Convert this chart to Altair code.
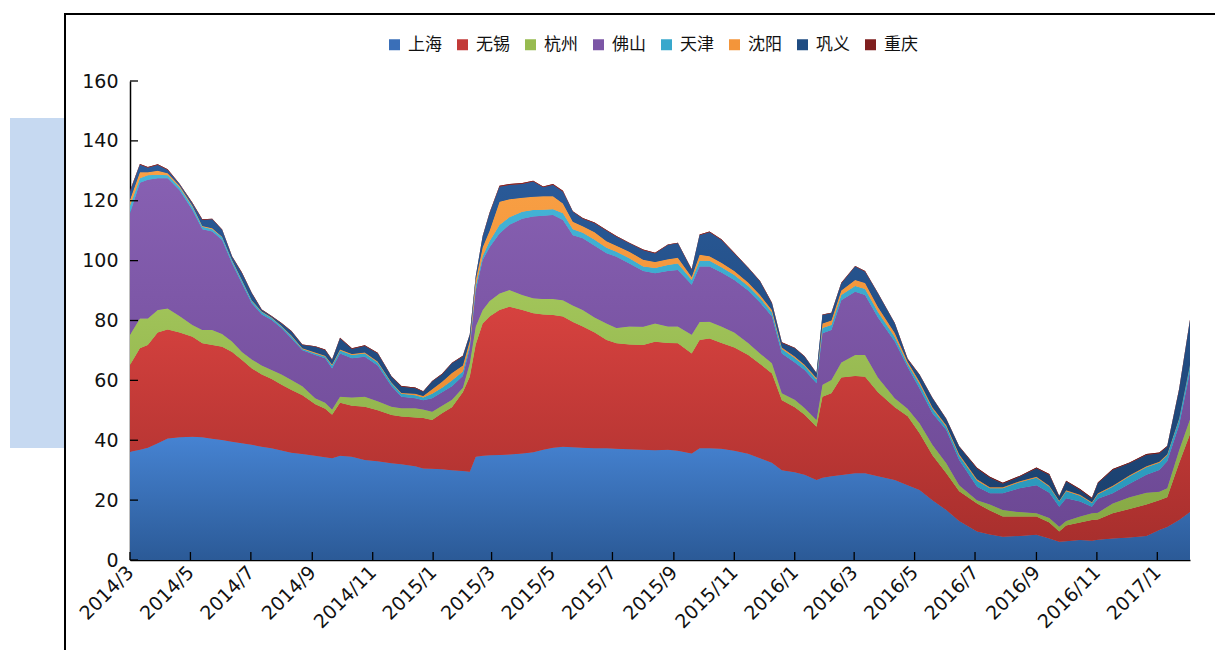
import altair as alt
import pandas as pd

cities = ["上海", "无锡", "杭州", "佛山", "天津", "沈阳", "巩义", "重庆"]
colors = ["#3a6fb8", "#c23a38", "#97bb50", "#7c56a6", "#38a8cc", "#f3953a", "#1f4c82", "#7f1f1f"]
colors_top = ["#4683d2", "#d6423f", "#a2c55a", "#8760b2", "#46b5d8", "#f9a045", "#2a5b9a", "#8a2424"]
colors_bottom = ["#2b5a97", "#a82f2d", "#86a844", "#6c4894", "#2a98bc", "#e8872b", "#1b416f", "#6e1a1a"]

dates = [
    "2014-03-01", "2014-03-11", "2014-03-19", "2014-03-29", "2014-04-08", "2014-04-20",
    "2014-05-03", "2014-05-13", "2014-05-23", "2014-06-02", "2014-06-12", "2014-06-22",
    "2014-07-02", "2014-07-12", "2014-07-22", "2014-08-01", "2014-08-11", "2014-08-22",
    "2014-09-04", "2014-09-14", "2014-09-21", "2014-09-29", "2014-10-11", "2014-10-24",
    "2014-11-06", "2014-11-20", "2014-11-30", "2014-12-14", "2014-12-22", "2014-12-31",
    "2015-01-10", "2015-01-20", "2015-01-31", "2015-02-07", "2015-02-13", "2015-02-20",
    "2015-02-27", "2015-03-09", "2015-03-19", "2015-04-01", "2015-04-12", "2015-04-22",
    "2015-05-02", "2015-05-12", "2015-05-22", "2015-06-01", "2015-06-13", "2015-06-25",
    "2015-07-05", "2015-07-18", "2015-08-01", "2015-08-13", "2015-08-26", "2015-09-05",
    "2015-09-19", "2015-09-27", "2015-10-07", "2015-10-19", "2015-11-01", "2015-11-15",
    "2015-11-27", "2015-12-09", "2015-12-19", "2016-01-01", "2016-01-11", "2016-01-23",
    "2016-01-29", "2016-02-07", "2016-02-17", "2016-03-02", "2016-03-12", "2016-03-25",
    "2016-04-11", "2016-04-24", "2016-05-06", "2016-05-19", "2016-06-02", "2016-06-15",
    "2016-07-03", "2016-07-16", "2016-07-29", "2016-08-15", "2016-09-01", "2016-09-14",
    "2016-09-24", "2016-10-01", "2016-10-15", "2016-10-27", "2016-11-02", "2016-11-17",
    "2016-12-04", "2016-12-21", "2017-01-03", "2017-01-11", "2017-01-23", "2017-02-03",
]

shanghai = [
    36.2, 36.8, 37.5, 39.0, 40.6, 41.0, 41.2, 41.0, 40.5, 40.1, 39.5, 39.0,
    38.5, 37.8, 37.3, 36.6, 35.8, 35.4, 34.8, 34.3, 34.0, 34.8, 34.5, 33.4,
    33.0, 32.3, 32.0, 31.3, 30.6, 30.5, 30.3, 30.0, 29.7, 29.5, 34.5, 34.8,
    35.0, 35.1, 35.2, 35.6, 36.0, 36.8, 37.5, 37.8, 37.7, 37.5, 37.3, 37.3,
    37.2, 37.0, 36.8, 36.7, 36.8, 36.5, 35.6, 37.3, 37.3, 37.2, 36.5, 35.5,
    34.0, 32.5, 30.0, 29.3, 28.5, 26.7, 27.5, 28.0, 28.4, 29.0, 29.0, 28.0,
    26.7, 25.0, 23.4, 20.0, 16.7, 13.0, 9.5, 8.5, 7.8, 8.0, 8.4, 7.2,
    6.1, 6.3, 6.7, 6.4, 6.8, 7.2, 7.5, 8.0, 10.0, 11.0, 13.4, 16.0,
]
wuxi = [
    28.9, 33.9, 34.3, 37.0, 36.4, 35.0, 33.4, 31.4, 31.3, 31.1, 30.0, 27.8,
    25.5, 24.2, 23.2, 21.9, 21.0, 19.6, 17.2, 16.2, 14.5, 17.7, 17.0, 17.8,
    17.0, 16.1, 15.9, 16.3, 16.8, 16.3, 18.7, 21.0, 26.3, 31.7, 37.5, 44.2,
    46.3, 48.4, 49.4, 47.9, 46.4, 45.2, 44.3, 43.5, 41.8, 40.5, 38.7, 36.2,
    35.2, 35.0, 35.0, 36.2, 35.7, 35.9, 33.4, 36.2, 36.7, 35.3, 34.5, 33.0,
    31.5, 29.8, 23.4, 21.7, 20.0, 17.8, 27.0, 27.7, 32.6, 32.5, 32.2, 28.0,
    24.3, 23.0, 18.9, 15.0, 12.3, 10.0, 9.4, 8.0, 6.7, 6.5, 6.1, 5.3,
    3.4, 5.2, 5.8, 7.0, 6.7, 8.4, 9.5, 10.5, 10.0, 10.0, 18.9, 26.0,
]
hangzhou = [
    10.1, 10.0, 8.9, 7.5, 7.0, 5.5, 3.9, 4.4, 5.0, 4.3, 3.5, 2.7,
    3.0, 3.0, 3.0, 3.5, 3.3, 3.0, 2.0, 2.0, 1.8, 2.0, 2.8, 3.3,
    3.0, 2.8, 2.8, 3.1, 2.9, 2.7, 2.5, 2.5, 1.5, 4.5, 6.0, 4.5,
    5.2, 5.5, 5.6, 5.0, 5.0, 5.2, 5.4, 5.5, 5.5, 5.5, 5.0, 5.5,
    5.1, 6.0, 6.1, 6.1, 5.5, 5.6, 6.2, 6.0, 5.6, 5.5, 5.0, 4.0,
    3.5, 3.4, 2.3, 2.5, 2.3, 2.3, 4.0, 4.4, 5.0, 7.0, 7.3, 5.0,
    3.0, 2.5, 3.4, 3.5, 3.3, 2.0, 1.1, 2.0, 2.2, 1.5, 1.1, 1.5,
    1.6, 1.5, 2.0, 2.2, 2.3, 3.3, 4.0, 4.0, 2.8, 3.0, 4.4, 5.0,
]
foshan = [
    40.6, 45.3, 46.3, 44.0, 43.5, 42.0, 38.4, 33.7, 32.9, 31.4, 26.1, 22.9,
    18.7, 17.0, 16.7, 15.4, 13.9, 12.1, 14.5, 14.9, 13.7, 14.5, 13.1, 13.4,
    12.0, 6.8, 3.8, 3.3, 3.1, 4.5, 4.5, 4.5, 4.0, 5.0, 12.0, 16.7,
    18.0, 20.1, 21.8, 25.5, 27.3, 27.8, 28.0, 26.8, 23.5, 24.0, 24.0, 23.5,
    23.8, 21.0, 18.6, 16.8, 18.5, 18.9, 16.7, 18.5, 18.4, 18.0, 17.5, 17.5,
    17.0, 15.6, 13.3, 12.5, 12.7, 12.2, 17.2, 16.7, 20.8, 21.1, 20.0, 20.0,
    19.0, 14.0, 11.6, 10.5, 11.1, 8.4, 4.5, 3.8, 5.6, 8.0, 9.4, 8.5,
    6.7, 7.6, 5.0, 2.2, 4.7, 3.4, 4.5, 6.0, 7.3, 9.0, 8.3, 16.0,
]
tianjin = [
    2.5, 1.5, 1.5, 1.2, 1.0, 1.0, 1.1, 0.8, 0.8, 0.9, 0.9, 0.9,
    0.8, 0.8, 0.6, 0.6, 0.7, 0.4, 0.5, 0.6, 1.0, 1.0, 1.1, 1.1,
    1.0, 1.0, 1.0, 1.0, 0.9, 1.5, 1.5, 2.0, 1.5, 1.0, 1.5, 1.3,
    2.0, 2.8, 2.5, 2.3, 2.2, 2.0, 2.0, 2.2, 2.0, 1.8, 2.0, 1.8,
    1.7, 1.8, 1.5, 1.7, 2.0, 2.1, 1.6, 2.0, 2.0, 1.8, 1.7, 1.5,
    1.5, 1.4, 1.5, 1.5, 1.3, 1.3, 1.8, 1.7, 1.7, 1.9, 2.0, 1.8,
    1.5, 1.0, 1.5, 1.5, 1.1, 1.4, 2.0, 1.7, 1.7, 2.0, 2.5, 2.0,
    1.7, 2.4, 2.0, 1.2, 1.5, 2.2, 2.5, 2.5, 2.4, 2.0, 2.0, 2.0,
]
shenyang = [
    2.0, 2.0, 1.0, 1.3, 0.7, 0.5, 0.3, 0.3, 0.3, 0.2, 0.2, 0.2,
    0.2, 0.2, 0.2, 0.2, 0.3, 0.2, 0.3, 0.2, 0.3, 0.3, 0.3, 0.3,
    0.3, 0.3, 0.3, 0.5, 0.5, 1.5, 2.0, 2.5, 2.0, 1.5, 2.0, 3.0,
    3.5, 7.8, 6.0, 4.7, 4.4, 4.5, 4.3, 3.3, 2.5, 2.2, 2.5, 2.2,
    2.0, 2.2, 2.3, 2.0, 2.0, 2.0, 1.0, 2.0, 1.5, 1.5, 1.3, 1.2,
    1.0, 0.8, 0.5, 0.5, 0.4, 0.5, 1.5, 1.5, 1.5, 2.0, 2.0, 1.7,
    1.3, 0.7, 0.7, 0.5, 0.5, 0.5, 0.5, 0.3, 0.3, 0.3, 0.3, 0.3,
    0.3, 0.3, 0.3, 0.3, 0.3, 0.3, 0.3, 0.3, 0.3, 0.3, 0.3, 0.3,
]
gongyi = [
    2.7, 2.5, 1.5, 1.9, 1.1, 0.5, 0.8, 2.0, 3.0, 2.2, 1.1, 2.3,
    2.3, 0.5, 0.3, 0.8, 1.3, 1.1, 1.9, 1.9, 1.5, 3.7, 1.7, 2.2,
    2.7, 1.9, 2.1, 1.9, 1.4, 2.6, 2.5, 3.2, 3.0, 2.0, 1.1, 3.5,
    5.8, 5.0, 4.8, 4.6, 5.1, 3.0, 3.8, 3.9, 3.3, 2.5, 3.0, 3.5,
    3.0, 2.8, 3.2, 2.9, 4.7, 4.8, 2.4, 6.5, 8.0, 7.6, 5.9, 4.8,
    4.5, 2.2, 1.5, 2.7, 2.7, 1.5, 2.8, 2.4, 2.4, 4.5, 3.8, 4.5,
    3.2, 0.8, 2.3, 3.0, 2.0, 2.5, 3.5, 3.2, 1.2, 1.5, 2.8, 3.6,
    1.3, 2.9, 1.6, 1.2, 3.3, 5.3, 4.0, 3.8, 2.8, 2.5, 9.5, 14.7,
]
chongqing = [
    0.3, 0.3, 0.3, 0.3, 0.2, 0.2, 0.2, 0.2, 0.2, 0.2, 0.2, 0.2,
    0.2, 0.2, 0.2, 0.2, 0.2, 0.2, 0.2, 0.2, 0.2, 0.2, 0.2, 0.2,
    0.2, 0.2, 0.2, 0.2, 0.2, 0.2, 0.2, 0.2, 0.2, 0.2, 0.2, 0.2,
    0.3, 0.3, 0.3, 0.3, 0.3, 0.3, 0.3, 0.3, 0.2, 0.2, 0.2, 0.2,
    0.2, 0.2, 0.2, 0.2, 0.2, 0.2, 0.2, 0.2, 0.2, 0.2, 0.2, 0.2,
    0.2, 0.2, 0.2, 0.2, 0.2, 0.2, 0.2, 0.2, 0.2, 0.2, 0.2, 0.2,
    0.2, 0.2, 0.2, 0.2, 0.2, 0.2, 0.3, 0.3, 0.3, 0.3, 0.3, 0.3,
    0.3, 0.3, 0.3, 0.3, 0.3, 0.3, 0.3, 0.3, 0.3, 0.3, 0.3, 0.3,
]

y_ticks = [0, 20, 40, 60, 80, 100, 120, 140, 160]
x_ticks = [
    "2014-03-01", "2014-05-01", "2014-07-01", "2014-09-01", "2014-11-01",
    "2015-01-01", "2015-03-01", "2015-05-01", "2015-07-01", "2015-09-01", "2015-11-01",
    "2016-01-01", "2016-03-01", "2016-05-01", "2016-07-01", "2016-09-01", "2016-11-01",
    "2017-01-01",
]

series = [shanghai, wuxi, hangzhou, foshan, tianjin, shenyang, gongyi, chongqing]
rows = []
for k, (c, vals) in enumerate(zip(cities, series)):
    for d, v in zip(dates, vals):
        rows.append({"date": d, "city": c, "value": v, "order": k})
df = pd.DataFrame(rows)


def dt(s):
    y, m, d = (int(p) for p in s.split("-"))
    return alt.DateTime(year=y, month=m, date=d, utc=True)


W, H = 1060, 479
LABEL_FONT = "DejaVu Sans"

xscale = alt.Scale(domain=[dt(dates[0]), dt(dates[-1])])
yscale = alt.Scale(domain=[0, 160], nice=False)

x_axis = alt.Axis(
    values=[dt(s) for s in x_ticks],
    labelExpr="utcFormat(datum.value, '%Y/%-m')",
    labelAngle=-45, labelAlign="right", labelBaseline="middle", labelPadding=9,
    ticks=False, tickSize=0, grid=False, title=None, labelOverlap=False,
    domainColor="#000000", domainWidth=1.5,
    labelFont=LABEL_FONT, labelFontSize=19, labelColor="#111111",
)
y_axis = alt.Axis(
    values=y_ticks, ticks=False, tickSize=0, grid=False, title=None,
    labelPadding=12, domainColor="#000000", domainWidth=1.5,
    labelFont=LABEL_FONT, labelFontSize=19, labelColor="#111111",
)

one = pd.DataFrame({"k": [0]})
side_box = alt.Chart(one).mark_rect(color="#c6d9f1").encode(
    x=alt.value(-120), x2=alt.value(-65), y=alt.value(37), y2=alt.value(367)
)
frame = alt.Chart(one).mark_rect(filled=False, color="#000000", strokeWidth=2).encode(
    x=alt.value(-65), x2=alt.value(1250), y=alt.value(-67), y2=alt.value(700)
)

base = alt.Chart(df).mark_area(interpolate="linear").encode(
    x=alt.X("date:T", scale=xscale, axis=x_axis),
    y=alt.Y("value:Q", stack="zero", scale=yscale, axis=y_axis),
    color=alt.Color(
        "city:N",
        scale=alt.Scale(domain=cities, range=colors),
        legend=alt.Legend(
            orient="none", legendX=256, legendY=-45, direction="horizontal", columns=8,
            title=None, symbolType="square", symbolSize=121, symbolStrokeWidth=0,
            labelFont="Noto Sans CJK SC", labelFontSize=17, labelColor="#111111",
            labelOffset=5, columnPadding=12,
        ),
    ),
    order=alt.Order("order:Q", sort="ascending"),
)

grad_layers = []
for k, c in enumerate(cities):
    grad = alt.LinearGradient(
        gradient="linear",
        stops=[alt.GradientStop(color=colors_top[k], offset=0),
               alt.GradientStop(color=colors_bottom[k], offset=1)],
        x1=0, x2=0, y1=0, y2=1,
    )
    layer = (
        alt.Chart(df)
        .transform_stack(stack="value", groupby=["date"],
                         sort=[alt.SortField("order", order="ascending")], as_=["y0", "y1"])
        .transform_filter(alt.datum.city == c)
        .mark_area(color=grad, interpolate="linear")
        .encode(
            x=alt.X("date:T", scale=xscale, axis=x_axis),
            y=alt.Y("y1:Q", scale=yscale, axis=y_axis),
            y2="y0:Q",
        )
    )
    grad_layers.append(layer)

ytick_rules = alt.Chart(pd.DataFrame({"v": y_ticks})).mark_rule(color="#000000", strokeWidth=1.3).encode(
    y=alt.Y("v:Q", scale=yscale, axis=y_axis), x=alt.value(0), x2=alt.value(8)
)
xtick_rules = alt.Chart(pd.DataFrame({"d": x_ticks})).mark_rule(color="#000000", strokeWidth=1.3).encode(
    x=alt.X("d:T", scale=xscale, axis=x_axis), y=alt.value(H), y2=alt.value(H - 8)
)

chart = (
    alt.layer(side_box, frame, base, *grad_layers, ytick_rules, xtick_rules)
    .properties(
        width=W, height=H,
        autosize=alt.AutoSizeParams(type="none"),
        padding={"left": 122, "top": 73, "right": 25, "bottom": 90},
        background="#ffffff",
    )
    .configure_view(stroke=None)
)

chart.save("out.html", embed_options={"renderer": "svg", "actions": False})
